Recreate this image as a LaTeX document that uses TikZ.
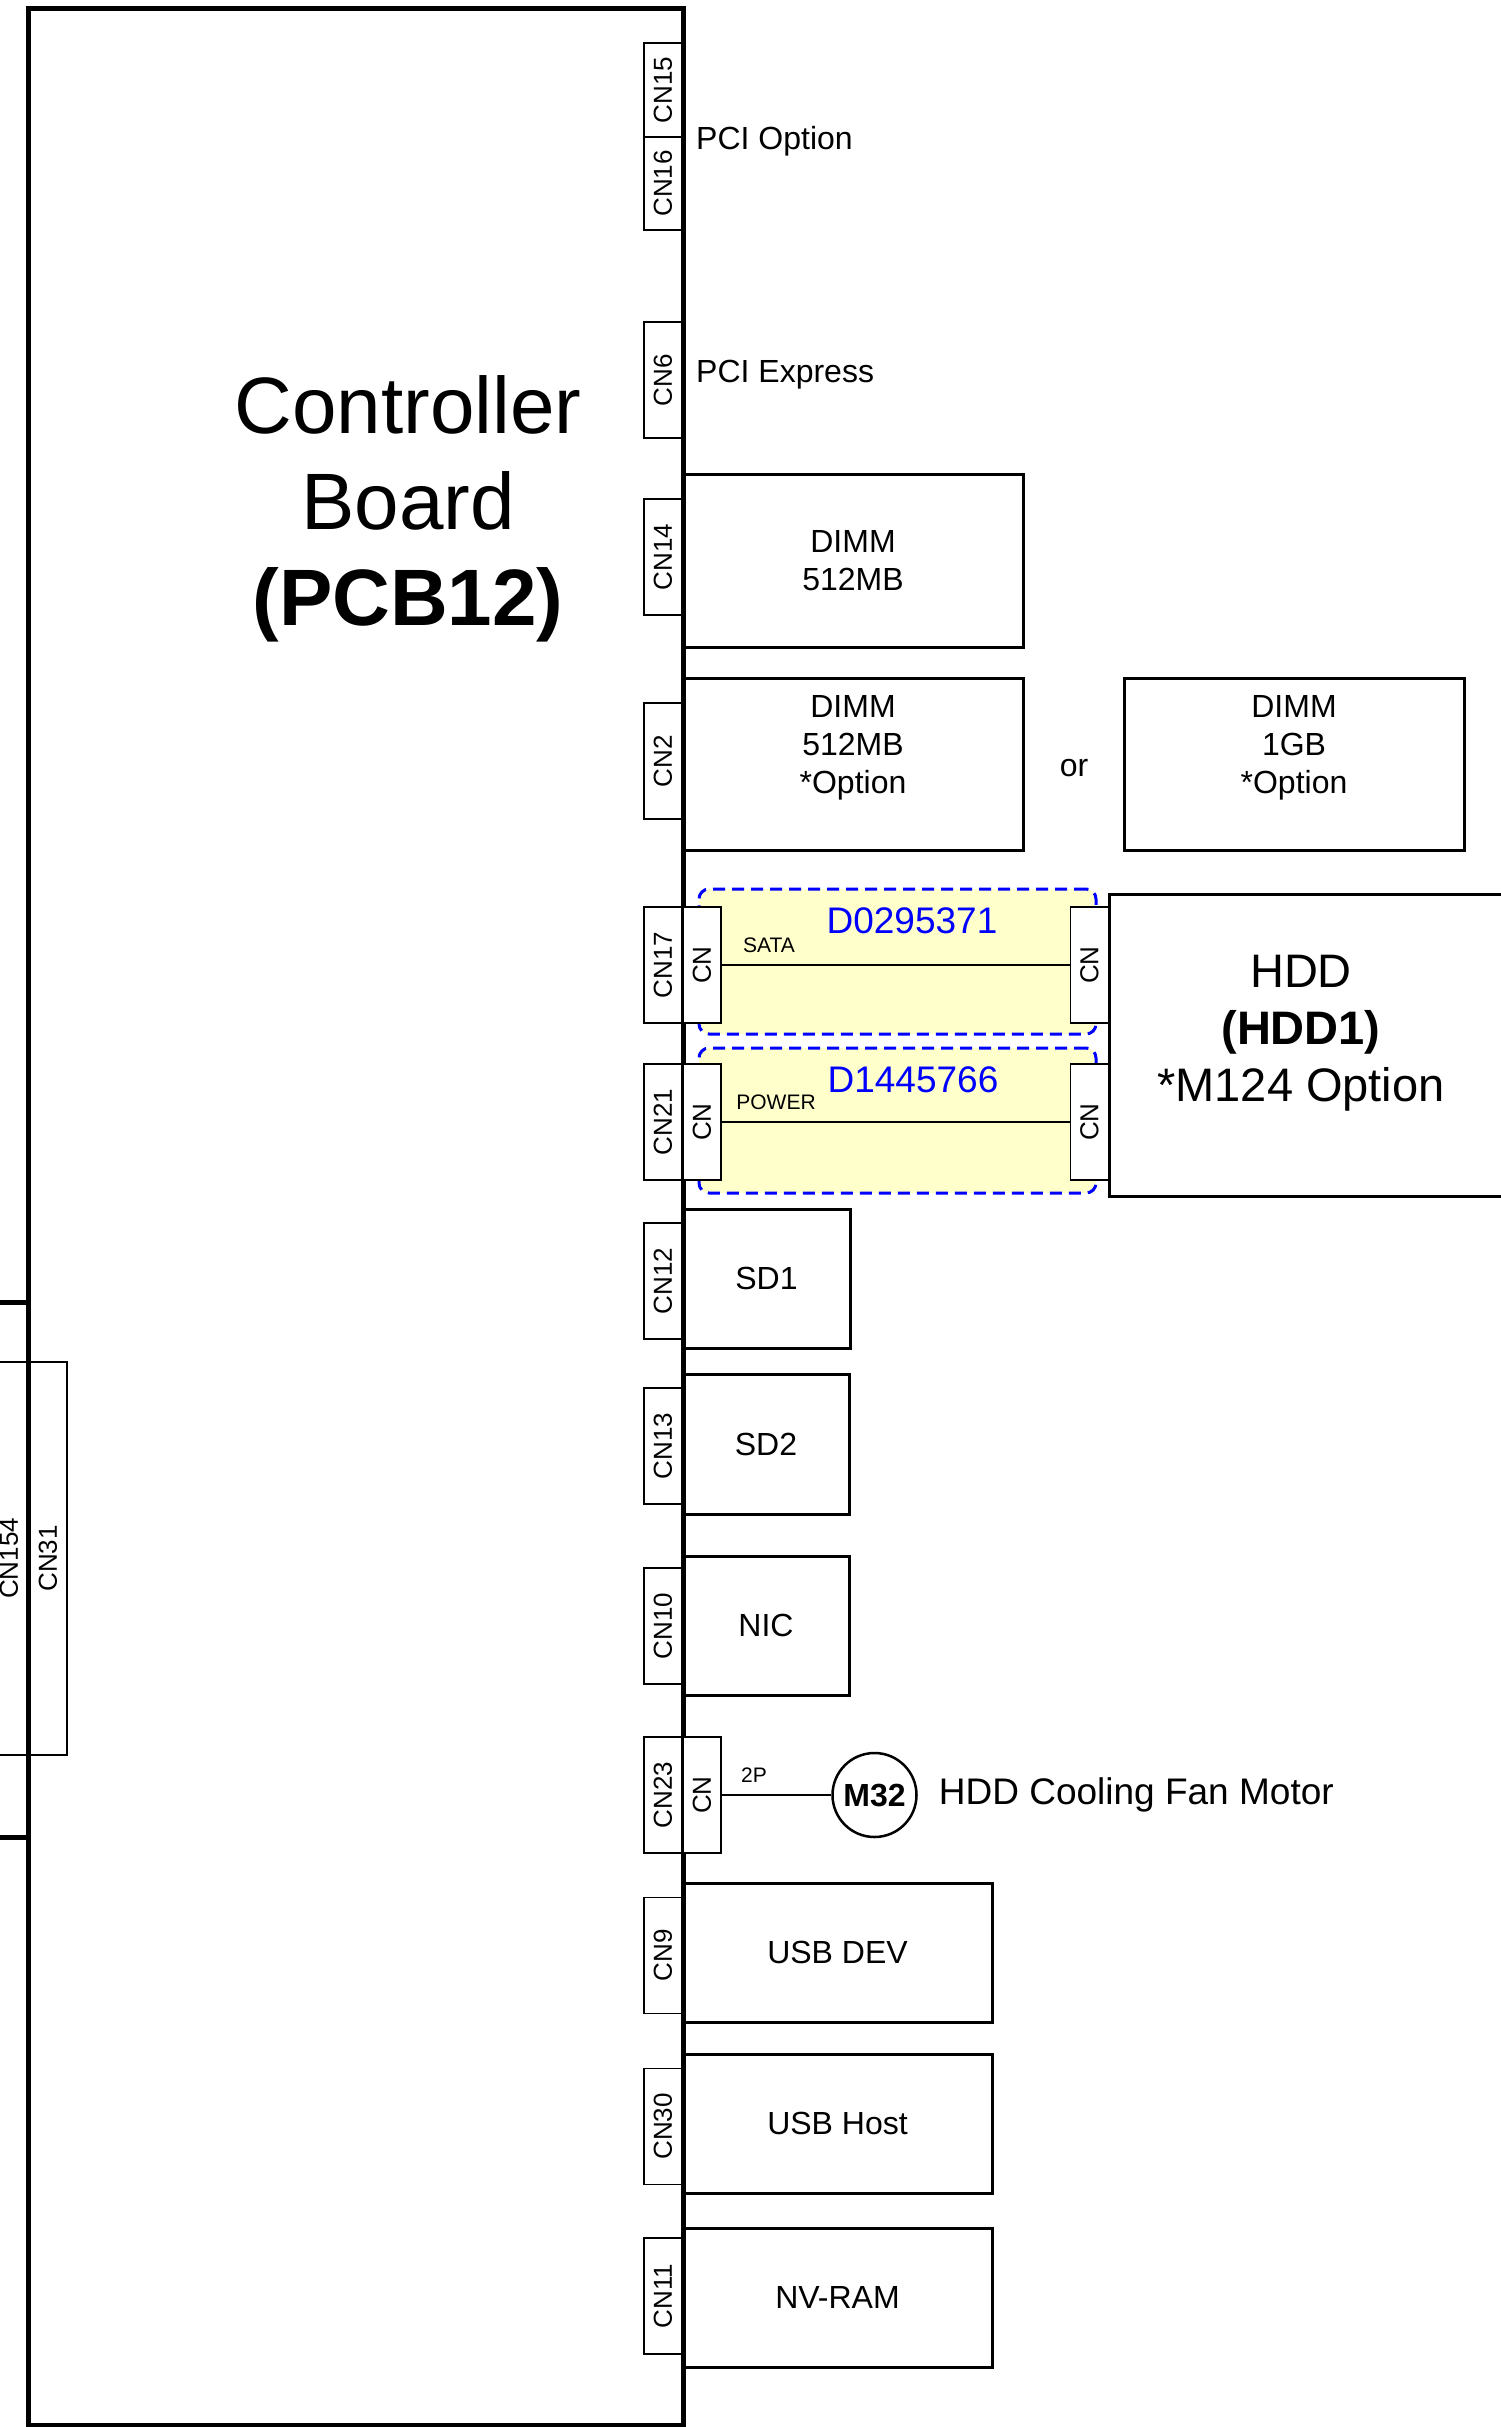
\documentclass[tikz,border=0pt]{standalone}
\usepackage{fontspec}
\setmainfont{Liberation Sans}
\usetikzlibrary{positioning}

\definecolor{harnessfill}{RGB}{255,255,204}
\definecolor{partblue}{RGB}{0,0,255}

\tikzset{
  board/.style={draw, line width=5pt, inner sep=0pt},
  cnlabel/.style={draw, line width=1.8pt, rotate=90, inner sep=0pt, minimum width=116pt, minimum height=38pt, font=\fontsize{26}{30}\selectfont},
  cnplug/.style={cnlabel, fill=white},
  unitbox/.style={draw, line width=3pt, inner sep=0pt, align=center, font=\fontsize{32}{38}\selectfont},
  unittext/.style={align=center, inner sep=0pt, font=\fontsize{32}{38}\selectfont},
  harness/.style={draw=partblue, dash pattern=on 12pt off 7pt, line width=3pt, rounded corners=10pt, fill=harnessfill, inner sep=0pt, minimum width=397pt, minimum height=145pt},
  cable/.style={line width=2pt},
  smalltag/.style={inner sep=0pt, font=\fontsize{21}{25}\selectfont},
  partno/.style={inner sep=0pt, text=partblue, font=\fontsize{37}{43}\selectfont}
}

\begin{document}
\begin{tikzpicture}[x=1pt, y=-1pt]
  \useasboundingbox (0,0) rectangle (1501,2427);

  % controller board
  \node[board, minimum width=655pt, minimum height=2416pt] (pcb) at (355.5,1217) {};
  \node[align=center, inner sep=0pt, font=\fontsize{80}{96}\selectfont] (pcbtitle) at (408,509) {Controller\\Board\\\textbf{(PCB12)}};

  % neighbour board, cut off at the left
  \draw[line width=5pt] (-10,1302) -- (28,1302);
  \draw[line width=5pt] (-10,1837) -- (28,1837);
  \node[cnlabel, minimum width=393pt] (CN154) at (9,1558.5) {CN154};
  \node[cnlabel, minimum width=393pt] (CN31) at (48,1558.5) {CN31};

  % connectors on the right edge
  \foreach \y/\h/\l in {90/94/CN15, 183.5/93/CN16, 380/116/CN6, 557/116/CN14, 761/116/CN2,
      965/116/CN17, 1122/116/CN21, 1281/116/CN12, 1446/116/CN13, 1626/116/CN10,
      1795/116/CN23, 1955.5/116/CN9, 2126.5/116/CN30, 2296/116/CN11} {
    \node[cnlabel, minimum width=\h pt] (\l) at (663,\y) {\l};
  }

  \node[unittext, anchor=west] (pciopt) at (696,141) {PCI Option};
  \node[unittext, anchor=west] (pcie) at (696,375) {PCI Express};

  % memory
  \node[unitbox, minimum width=340pt, minimum height=173pt] (dimmA) at (853,560.5) {DIMM\\512MB};
  \node[unitbox, minimum width=340pt, minimum height=172pt] (dimmB) at (853,764) {};
  \node[unittext] (dimmBtxt) at (853,748) {DIMM\\512MB\\*Option};
  \node[unitbox, minimum width=340pt, minimum height=172pt] (dimmC) at (1294,764) {};
  \node[unittext] (dimmCtxt) at (1294,748) {DIMM\\1GB\\*Option};
  \node[unittext] (dimmor) at (1074,768) {or};

  % hdd and its harnesses
  \node[unitbox, minimum width=451pt, minimum height=302pt] (hdd) at (1334.5,1045) {};
  \node[align=center, inner sep=0pt, font=\fontsize{47}{57}\selectfont] (hddtxt) at (1301,1033) {HDD\\\textbf{(HDD1)}\\*M124 Option};

  \node[harness] (sataharness) at (897.5,961.5) {};
  \node[harness] (powerharness) at (897.5,1120.5) {};
  \node[cnplug] (sataL) at (702,965) {CN};
  \node[cnplug] (sataR) at (1089.5,965) {CN};
  \node[cnplug] (powerL) at (702,1122) {CN};
  \node[cnplug] (powerR) at (1089.5,1122) {CN};
  \draw[cable] (sataL.south) -- (sataR.north);
  \draw[cable] (powerL.south) -- (powerR.north);
  \node[smalltag] (satatag) at (769,945) {SATA};
  \node[partno] (satano) at (912,921) {D0295371};
  \node[smalltag] (powertag) at (776,1102) {POWER};
  \node[partno] (powerno) at (913,1080) {D1445766};

  % cards
  \node[unitbox, minimum width=167pt, minimum height=139pt] (sdA) at (766.5,1278.5) {SD1};
  \node[unitbox, minimum width=166pt, minimum height=140pt] (sdB) at (766,1444) {SD2};
  \node[unitbox, minimum width=166pt, minimum height=139pt] (nic) at (766,1625.5) {NIC};

  % fan
  \node[cnplug] (fanplug) at (702,1795) {CN};
  \node[draw, circle, line width=2.5pt, minimum size=84pt, inner sep=0pt, font=\bfseries\fontsize{32}{38}\selectfont] (fanmotor) at (874.5,1795) {M32};
  \draw[cable] (fanplug.south) -- (fanmotor.west);
  \node[smalltag] (fantag) at (754,1775) {2P};
  \node[inner sep=0pt, right=21pt of fanmotor, font=\fontsize{37}{44}\selectfont] (fanname) {HDD Cooling Fan Motor};

  % usb and nv-ram
  \node[unitbox, minimum width=309pt, minimum height=139pt] (usbdev) at (837.5,1952.5) {USB DEV};
  \node[unitbox, minimum width=309pt, minimum height=139pt] (usbhost) at (837.5,2123.5) {USB Host};
  \node[unitbox, minimum width=309pt, minimum height=139pt] (nvram) at (837.5,2297.5) {NV-RAM};
\end{tikzpicture}
\end{document}
